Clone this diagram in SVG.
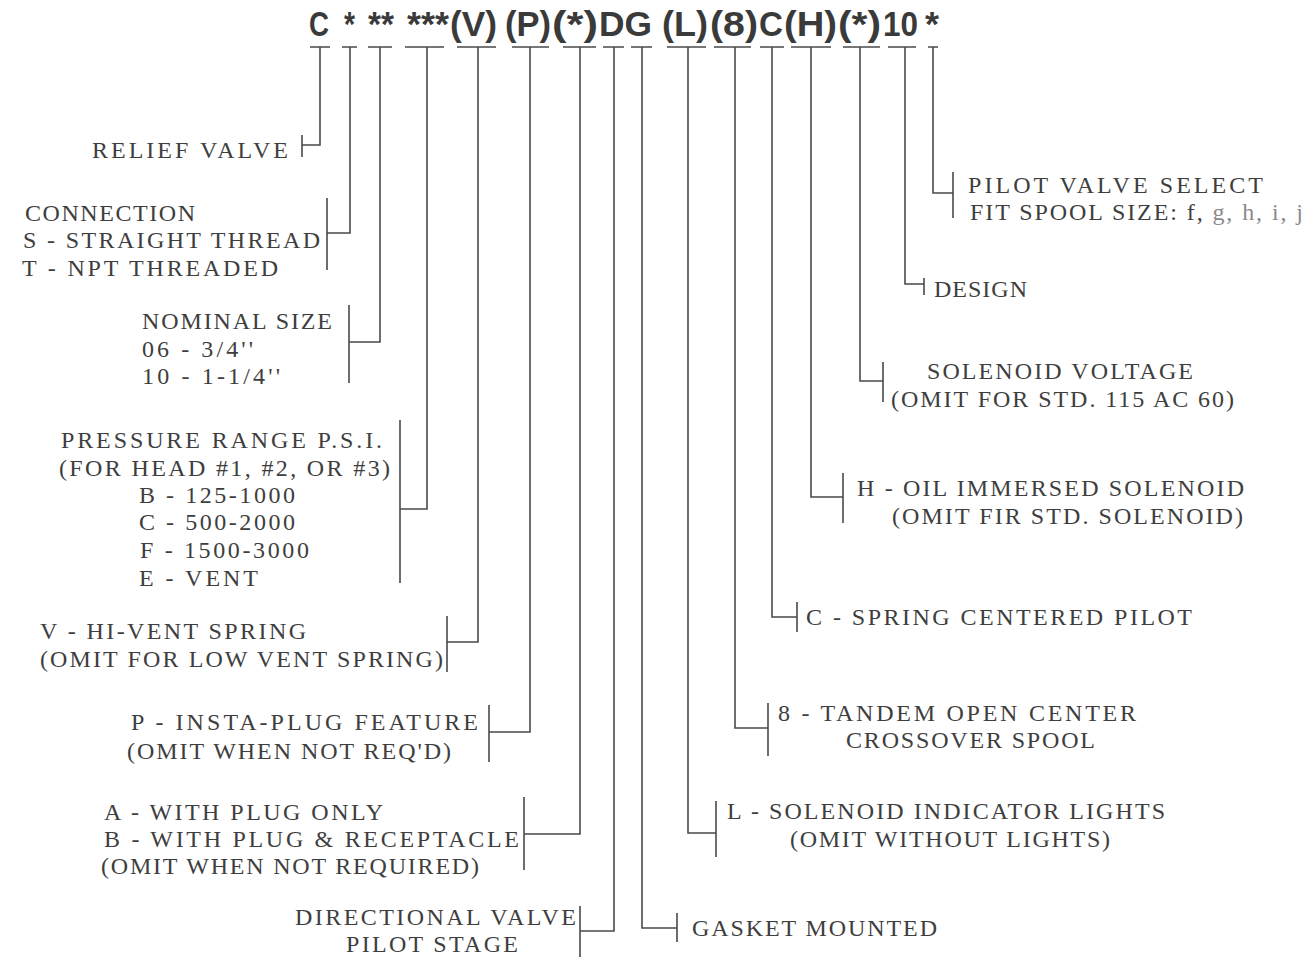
<svg xmlns="http://www.w3.org/2000/svg" width="1306" height="957" viewBox="0 0 1306 957">
<style>
.ttl{font-family:"Liberation Sans",Arial,sans-serif;font-weight:bold;font-size:35px;fill:#3a3a3a}
.lbl{font-family:"Liberation Serif","Times New Roman",serif;font-size:24px;fill:#3e3e3e}
.ln{fill:none;stroke:#4a4a4a;stroke-width:1.6}
.lt{fill:#8a8a8a}
</style>
<rect width="1306" height="957" fill="#ffffff"/>
<g id="code">
<text class="ttl" x="309" y="36" textLength="20" lengthAdjust="spacingAndGlyphs">C</text>
<text class="ttl" x="344" y="36" textLength="11" lengthAdjust="spacingAndGlyphs">*</text>
<text class="ttl" x="368" y="36" textLength="26" lengthAdjust="spacingAndGlyphs">**</text>
<text class="ttl" x="407" y="36" textLength="42" lengthAdjust="spacingAndGlyphs">***</text>
<text class="ttl" x="450" y="36" textLength="47" lengthAdjust="spacingAndGlyphs">(V)</text>
<text class="ttl" x="505" y="36" textLength="46" lengthAdjust="spacingAndGlyphs">(P)</text>
<text class="ttl" x="552" y="36" textLength="46" lengthAdjust="spacingAndGlyphs">(*)</text>
<text class="ttl" x="599" y="36" textLength="53" lengthAdjust="spacingAndGlyphs">DG</text>
<text class="ttl" x="662" y="36" textLength="46" lengthAdjust="spacingAndGlyphs">(L)</text>
<text class="ttl" x="710" y="36" textLength="48" lengthAdjust="spacingAndGlyphs">(8)</text>
<text class="ttl" x="759" y="36" textLength="24" lengthAdjust="spacingAndGlyphs">C</text>
<text class="ttl" x="784" y="36" textLength="53" lengthAdjust="spacingAndGlyphs">(H)</text>
<text class="ttl" x="838" y="36" textLength="43" lengthAdjust="spacingAndGlyphs">(*)</text>
<text class="ttl" x="883" y="36" textLength="35" lengthAdjust="spacingAndGlyphs">10</text>
<text class="ttl" x="925" y="36" textLength="14" lengthAdjust="spacingAndGlyphs">*</text>
</g>
<g id="connectors">
<path class="ln" d="M310,47H330 M320,47V145H302 M302,135V157"/>
<path class="ln" d="M342,47H357 M350,47V233H327 M327,198V270"/>
<path class="ln" d="M368,47H392 M380,47V342H349 M349,305V383"/>
<path class="ln" d="M405,47H444 M427,47V509H400 M400,420V583"/>
<path class="ln" d="M457,47H496 M478,47V642H447 M447,616V672"/>
<path class="ln" d="M512,47H549 M530,47V732H489 M489,705V762"/>
<path class="ln" d="M563,47H596 M580,47V834H524 M524,797V870"/>
<path class="ln" d="M603,47H624 M614,47V931H580 M580,906V957"/>
<path class="ln" d="M631,47H652 M642,47V928H677 M677,913V942"/>
<path class="ln" d="M667,47H706 M688,47V833H716 M716,801V857"/>
<path class="ln" d="M714,47H751 M735,47V728H768 M768,703V756"/>
<path class="ln" d="M760,47H784 M772,47V617H797 M797,602V632"/>
<path class="ln" d="M791,47H831 M811,47V497H843 M843,473V523"/>
<path class="ln" d="M843,47H880 M860,47V381H883 M883,362V402"/>
<path class="ln" d="M888,47H916 M905,47V284H924 M924,278V295"/>
<path class="ln" d="M928,47H938 M933,47V193H953 M953,172V218"/>
</g>
<g id="relief-valve">
<text class="lbl" x="92" y="158" textLength="196" lengthAdjust="spacing">RELIEF VALVE</text>
</g>
<g id="connection">
<text class="lbl" x="25" y="221" textLength="170" lengthAdjust="spacing">CONNECTION</text>
<text class="lbl" x="23" y="248" textLength="297" lengthAdjust="spacing">S - STRAIGHT THREAD</text>
<text class="lbl" x="22" y="276" textLength="256" lengthAdjust="spacing">T - NPT THREADED</text>
</g>
<g id="nominal-size">
<text class="lbl" x="142" y="329" textLength="190" lengthAdjust="spacing">NOMINAL SIZE</text>
<text class="lbl" x="142" y="357" textLength="111" lengthAdjust="spacing">06 - 3/4''</text>
<text class="lbl" x="142" y="384" textLength="138" lengthAdjust="spacing">10 - 1-1/4''</text>
</g>
<g id="pressure-range">
<text class="lbl" x="61" y="448" textLength="321" lengthAdjust="spacing">PRESSURE RANGE P.S.I.</text>
<text class="lbl" x="59" y="476" textLength="331" lengthAdjust="spacing">(FOR HEAD #1, #2, OR #3)</text>
<text class="lbl" x="139" y="503" textLength="156" lengthAdjust="spacing">B - 125-1000</text>
<text class="lbl" x="139" y="530" textLength="156" lengthAdjust="spacing">C - 500-2000</text>
<text class="lbl" x="140" y="558" textLength="169" lengthAdjust="spacing">F - 1500-3000</text>
<text class="lbl" x="139" y="586" textLength="119" lengthAdjust="spacing">E - VENT</text>
</g>
<g id="vent-spring">
<text class="lbl" x="40" y="639" textLength="266" lengthAdjust="spacing">V - HI-VENT SPRING</text>
<text class="lbl" x="40" y="667" textLength="403" lengthAdjust="spacing">(OMIT FOR LOW VENT SPRING)</text>
</g>
<g id="insta-plug">
<text class="lbl" x="131" y="730" textLength="347" lengthAdjust="spacing">P - INSTA-PLUG FEATURE</text>
<text class="lbl" x="127" y="759" textLength="324" lengthAdjust="spacing">(OMIT WHEN NOT REQ'D)</text>
</g>
<g id="plug-receptacle">
<text class="lbl" x="104" y="820" textLength="279" lengthAdjust="spacing">A - WITH PLUG ONLY</text>
<text class="lbl" x="104" y="847" textLength="415" lengthAdjust="spacing">B - WITH PLUG &amp; RECEPTACLE</text>
<text class="lbl" x="101" y="874" textLength="378" lengthAdjust="spacing">(OMIT WHEN NOT REQUIRED)</text>
</g>
<g id="directional-valve">
<text class="lbl" x="295" y="925" textLength="281" lengthAdjust="spacing">DIRECTIONAL VALVE</text>
<text class="lbl" x="346" y="952" textLength="172" lengthAdjust="spacing">PILOT STAGE</text>
</g>
<g id="gasket-mounted">
<text class="lbl" x="692" y="936" textLength="245" lengthAdjust="spacing">GASKET MOUNTED</text>
</g>
<g id="indicator-lights">
<text class="lbl" x="727" y="819" textLength="438" lengthAdjust="spacing">L - SOLENOID INDICATOR LIGHTS</text>
<text class="lbl" x="790" y="847" textLength="320" lengthAdjust="spacing">(OMIT WITHOUT LIGHTS)</text>
</g>
<g id="tandem-spool">
<text class="lbl" x="778" y="721" textLength="358" lengthAdjust="spacing">8 - TANDEM OPEN CENTER</text>
<text class="lbl" x="846" y="748" textLength="249" lengthAdjust="spacing">CROSSOVER SPOOL</text>
</g>
<g id="spring-centered">
<text class="lbl" x="806" y="625" textLength="386" lengthAdjust="spacing">C - SPRING CENTERED PILOT</text>
</g>
<g id="oil-immersed">
<text class="lbl" x="857" y="496" textLength="387" lengthAdjust="spacing">H - OIL IMMERSED SOLENOID</text>
<text class="lbl" x="892" y="524" textLength="351" lengthAdjust="spacing">(OMIT FIR STD. SOLENOID)</text>
</g>
<g id="solenoid-voltage">
<text class="lbl" x="927" y="379" textLength="266" lengthAdjust="spacing">SOLENOID VOLTAGE</text>
<text class="lbl" x="891" y="407" textLength="343" lengthAdjust="spacing">(OMIT FOR STD. 115 AC 60)</text>
</g>
<g id="design">
<text class="lbl" x="934" y="297" textLength="93" lengthAdjust="spacing">DESIGN</text>
</g>
<g id="pilot-valve">
<text class="lbl" x="968" y="193" textLength="295" lengthAdjust="spacing">PILOT VALVE SELECT</text>
<text class="lbl" x="970" y="220" textLength="333" lengthAdjust="spacing">FIT SPOOL SIZE: f, <tspan class="lt">g, h, i, j</tspan></text>
</g>
</svg>
